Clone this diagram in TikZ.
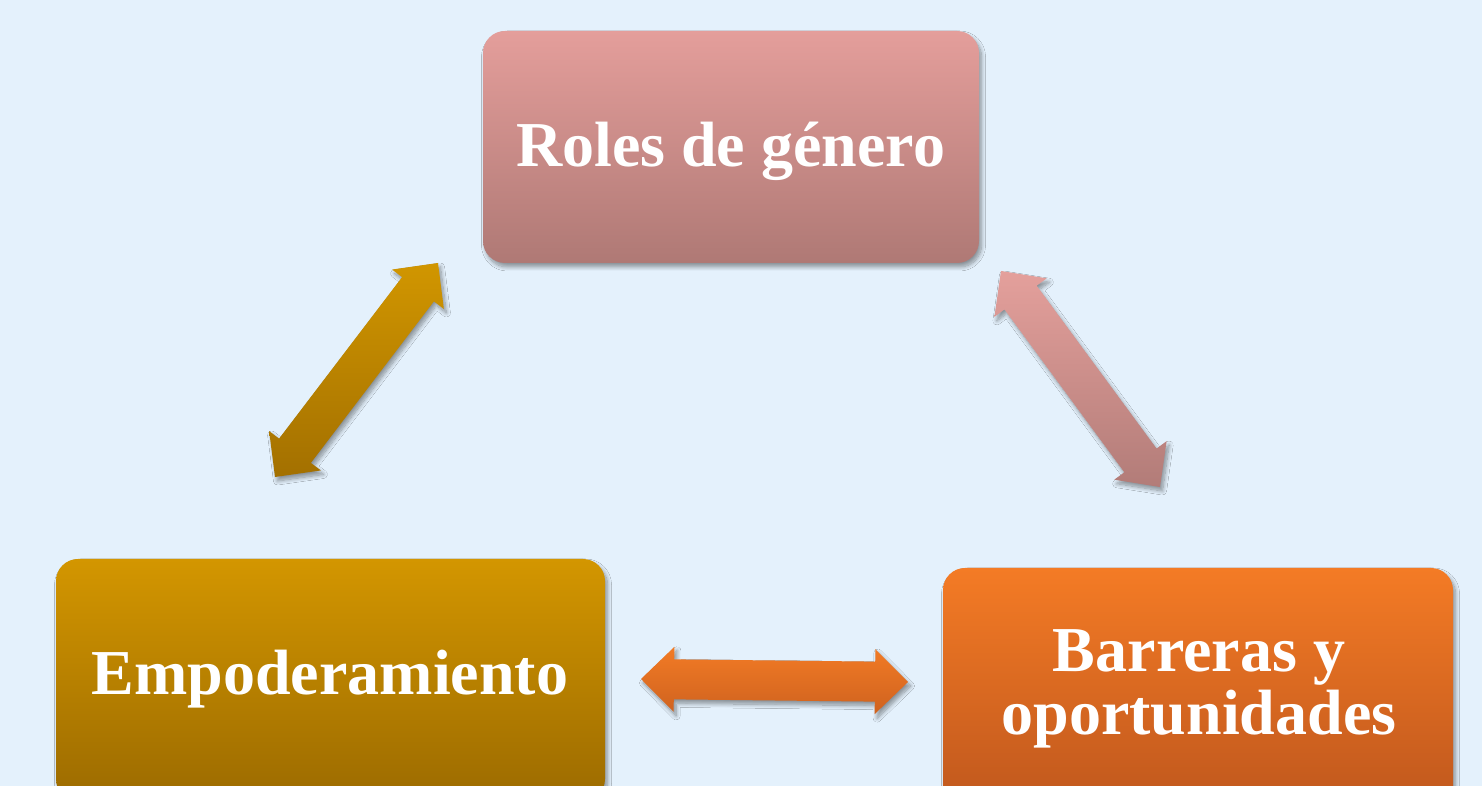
\documentclass[tikz,border=0pt]{standalone}
\usepackage{fontspec}
\setmainfont{Liberation Serif}
\usetikzlibrary{calc,shadows.blur}
\definecolor{bg}{HTML}{E4F1FC}
\definecolor{roseT}{HTML}{E49E9B}
\definecolor{roseB}{HTML}{AF7975}
\definecolor{goldT}{HTML}{D39600}
\definecolor{goldB}{HTML}{9C6B00}
\definecolor{oranT}{HTML}{F47B25}
\definecolor{oranB}{HTML}{BF571D}
\definecolor{aroseT}{HTML}{E4A09C}
\definecolor{aroseB}{HTML}{B27C78}
\definecolor{agoldT}{HTML}{D19600}
\definecolor{agoldB}{HTML}{A37000}
\definecolor{aoranT}{HTML}{F27B25}
\definecolor{aoranB}{HTML}{CF621F}
% double arrow between two tip coordinates: #1 tip A, #2 tip B, #3 style
\newcommand{\dblarrowpath}[3]{%
  \path[#3] (#1)
    -- ($(#1)!33pt!(#2)!32.5pt!90:(#2)$)
    -- ($(#1)!33pt!(#2)!20pt!90:(#2)$)
    -- ($(#2)!33pt!(#1)!20pt!-90:(#1)$)
    -- ($(#2)!33pt!(#1)!32.5pt!-90:(#1)$)
    -- (#2)
    -- ($(#2)!33pt!(#1)!32.5pt!90:(#1)$)
    -- ($(#2)!33pt!(#1)!20pt!90:(#1)$)
    -- ($(#1)!33pt!(#2)!20pt!-90:(#2)$)
    -- ($(#1)!33pt!(#2)!32.5pt!-90:(#2)$)
    -- cycle;}
\begin{document}
\begin{tikzpicture}[x=1pt,y=1pt,
  shad/.style={blur shadow={shadow xshift=2.5pt,shadow yshift=-4pt,shadow blur radius=4pt,shadow opacity=40,shadow blur steps=10}},
  box/.style={rectangle,rounded corners=22pt,inner sep=0pt,draw=none,shad},
  lbl/.style={text=white,font=\bfseries\fontsize{64}{63}\selectfont,align=center,inner sep=0pt},
  arr/.style={draw=none,shad}]
\useasboundingbox (0,0) rectangle (1482,786);
\clip (0,0) rectangle (1482,786);
\fill[bg] (0,0) rectangle (1482,786);

% boxes
\node[box,top color=roseT,bottom color=roseB,minimum width=496pt,minimum height=232pt] (roles) at (731,639) {};
\node[box,top color=goldT,bottom color=goldB,minimum width=549pt,minimum height=242pt] (emp) at (330.5,106) {};
\node[box,top color=oranT,bottom color=oranB,minimum width=510pt,minimum height=242pt] (bar) at (1198,97) {};

% labels
\node[lbl,anchor=base] (rolesT) at (730.5,619) {Roles de género};
\node[lbl,anchor=base] (empT) at (330,91) {Empoderamiento};
\node[lbl,anchor=base] (barT) at (1199,51) {Barreras y\\oportunidades};

% arrow tips
\coordinate (g1) at (438,523);
\coordinate (g2) at (275,309);
\coordinate (p1) at (1001,515);
\coordinate (p2) at (1160,299);
\coordinate (o1) at (641,107);
\coordinate (o2) at (908,104);

\dblarrowpath{g1}{g2}{arr,top color=agoldT,bottom color=agoldB}
\dblarrowpath{p1}{p2}{arr,top color=aroseT,bottom color=aroseB}
\dblarrowpath{o1}{o2}{arr,top color=aoranT,bottom color=aoranB}
\end{tikzpicture}
\end{document}
